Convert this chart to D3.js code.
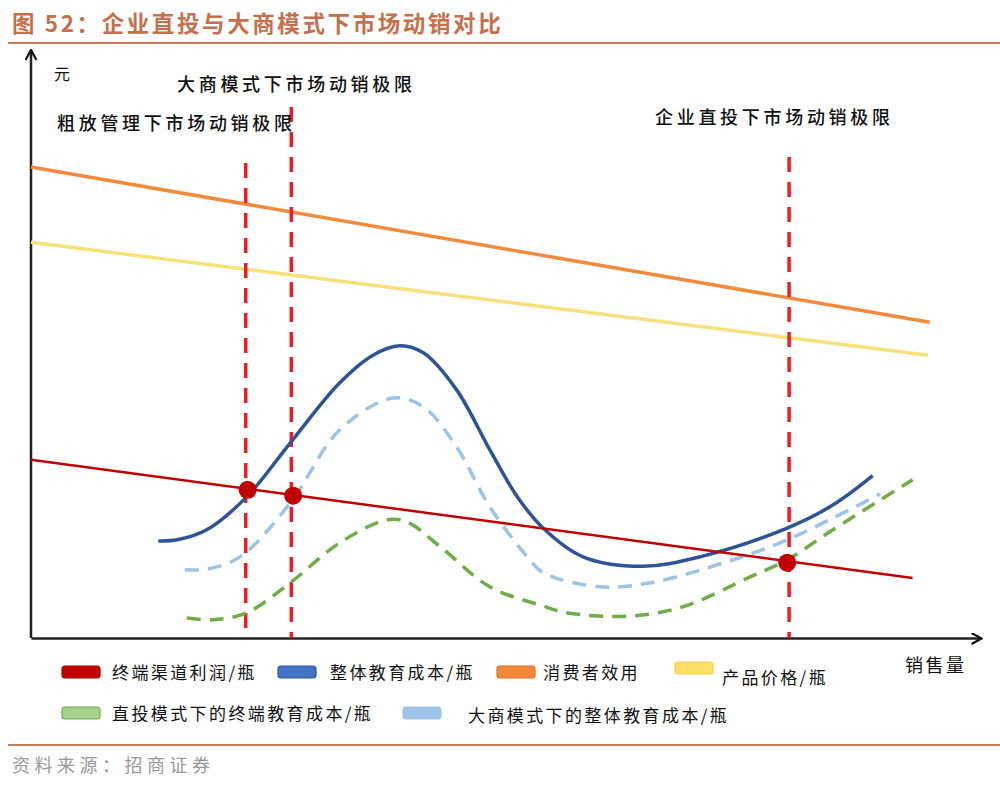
<!DOCTYPE html>
<html>
<head>
<meta charset="utf-8">
<script src="https://cdn.jsdelivr.net/npm/d3@7"></script>
<style>
  body { margin: 0; background: #fff; }
  svg { display: block; font-family: "Noto Sans CJK SC", "Noto Sans", sans-serif; }
</style>
</head>
<body>
<svg id="chart" width="1000" height="786"></svg>
<script>
// values in chart units: x = 销售量 (0-100), y = 元 (0-100)
const consumerUtility = [[0, 80.1], [94.6, 53.7]]
const productPrice = [[0, 67.3], [94.4, 48.1]]
const channelProfit = [[0, 30.3], [92.8, 10.2]]

const totalEduCost = [
    [13.4, 16.5], [15.4, 16.7], [18.5, 18.4], [22.7, 24.0], [27.3, 33.2], [32.5, 43.4],
    [36.0, 48.1], [38.8, 49.7], [41.3, 48.5], [44.8, 42.2], [48.3, 32.0], [51.2, 24.0],
    [53.9, 18.7], [58.1, 13.8], [64.4, 12.2], [70.4, 13.8], [79.6, 18.7], [84.4, 22.6], [88.6, 27.6]
]
const dealerEduCost = [
    [16.2, 11.6], [18.5, 11.7], [22.0, 13.8], [27.3, 23.0], [32.5, 35.4], [38.1, 40.8],
    [41.3, 39.3], [44.8, 32.5], [48.3, 22.3], [52.5, 13.3], [53.9, 11.1], [59.9, 8.7],
    [65.2, 9.4], [73.9, 13.3], [79.6, 16.7], [84.4, 20.4], [89.4, 24.5]
]
const directEduCost = [
    [16.4, 3.4], [19.2, 3.1], [22.7, 4.3], [27.3, 9.4], [32.5, 16.2], [37.5, 20.1],
    [39.6, 19.7], [43.1, 15.5], [48.3, 8.7], [53.6, 5.6], [56.4, 4.3], [62.7, 3.7],
    [68.6, 5.3], [75.7, 10.4], [79.6, 13.3], [84.4, 18.4], [92.8, 26.9]
]

// 动销极限: vertical line x, top of line, intersection point with 终端渠道利润
const limits = [
    { x: 22.6, top: 80.8, dotX: 22.8, dotY: 25.2 },
    { x: 27.4, top: 90.3, dotX: 27.6, dotY: 24.2 },
    { x: 79.8, top: 81.8, dotX: 79.6, dotY: 12.8 }
]
const limitLabels = ['粗放管理下市场动销极限', '大商模式下市场动销极限', '企业直投下市场动销极限']

const legendNames = ['终端渠道利润/瓶', '整体教育成本/瓶', '消费者效用', '产品价格/瓶', '直投模式下的终端教育成本/瓶', '大商模式下的整体教育成本/瓶']

const svg = d3.select('#chart')
const x = d3.scaleLinear().domain([0, 100]).range([31, 981])
const y = d3.scaleLinear().domain([0, 100]).range([638, 50])

// title
svg.append('text').attr('x', 12).attr('y', 32)
    .attr('font-size', 22.5).attr('font-weight', 700).attr('fill', '#C4704C').attr('letter-spacing', 2.6)
    .text('图 52：企业直投与大商模式下市场动销对比')
svg.append('line').attr('x1', 8).attr('x2', 1000).attr('y1', 43).attr('y2', 43)
    .attr('stroke', '#D07A55').attr('stroke-width', 2)

// arrow heads
const defs = svg.append('defs')
defs.append('marker').attr('id', 'arrow')
    .attr('viewBox', '0 -6 12 12').attr('refX', 11).attr('refY', 0)
    .attr('markerWidth', 12).attr('markerHeight', 12).attr('markerUnits', 'userSpaceOnUse')
    .attr('orient', 'auto')
    .append('path').attr('d', 'M1,-5.5L11,0L1,5.5')
    .attr('fill', 'none').attr('stroke', '#111').attr('stroke-width', 2.2)

// axes
svg.append('g').attr('transform', `translate(0,${y(0)})`)
    .call(d3.axisBottom(x).tickValues([]).tickSizeOuter(0))
    .select('.domain').attr('stroke', '#222').attr('stroke-width', 2.5)
    .attr('marker-end', 'url(#arrow)')
svg.append('g').attr('transform', `translate(${x(0)},0)`)
    .call(d3.axisLeft(y).tickValues([]).tickSizeOuter(0))
    .select('.domain').attr('stroke', '#222').attr('stroke-width', 2.5)
    .attr('d', `M0,${y(0)}V${y(100)}`)
    .attr('marker-end', 'url(#arrow)')

svg.append('text').attr('x', 54).attr('y', 80).attr('font-size', 16).attr('fill', '#111').text('元')
svg.append('text').attr('x', 905).attr('y', 672).attr('font-size', 18).attr('fill', '#111')
    .attr('letter-spacing', 2.5).text('销售量')

const straight = d3.line().x(d => x(d[0])).y(d => y(d[1]))
const smooth = d3.line().x(d => x(d[0])).y(d => y(d[1])).curve(d3.curveCatmullRom.alpha(0.5))

svg.append('path').attr('d', straight(consumerUtility))
    .attr('fill', 'none').attr('stroke', '#F28A3E').attr('stroke-width', 3.5)
svg.append('path').attr('d', straight(productPrice))
    .attr('fill', 'none').attr('stroke', '#F8E07A').attr('stroke-width', 3.5)

// dashed limit lines
svg.append('g').selectAll('line').data(limits).join('line')
    .attr('x1', d => x(d.x)).attr('x2', d => x(d.x))
    .attr('y1', d => y(d.top)).attr('y2', y(0))
    .attr('stroke', '#EE1C24').attr('stroke-width', 3.5).attr('stroke-dasharray', '15,10')

svg.append('path').attr('d', smooth(directEduCost))
    .attr('fill', 'none').attr('stroke', '#70AD47').attr('stroke-width', 3.5).attr('stroke-dasharray', '14,9')
svg.append('path').attr('d', smooth(dealerEduCost))
    .attr('fill', 'none').attr('stroke', '#9DC3E6').attr('stroke-width', 3.5).attr('stroke-dasharray', '14,9')
svg.append('path').attr('d', smooth(totalEduCost))
    .attr('fill', 'none').attr('stroke', '#2F5496').attr('stroke-width', 3.5)
svg.append('path').attr('d', straight(channelProfit))
    .attr('fill', 'none').attr('stroke', '#C00000').attr('stroke-width', 2.5)

svg.append('g').selectAll('circle').data(limits).join('circle')
    .attr('cx', d => x(d.dotX)).attr('cy', d => y(d.dotY)).attr('r', 9)
    .attr('fill', '#C00000')

// limit labels
const labelPos = [[57, 130], [177, 91], [655, 124]]
svg.append('g').selectAll('text').data(limitLabels).join('text')
    .attr('x', (d, i) => labelPos[i][0]).attr('y', (d, i) => labelPos[i][1])
    .attr('font-size', 18).attr('font-weight', 500).attr('fill', '#111').attr('letter-spacing', 3.7)
    .text(d => d)

// legend
const legendStyle = [
    { fill: '#C00000', stroke: '#A00000', sx: 62, ty: 672, tx: 112, tyText: 679 },
    { fill: '#4472C4', stroke: '#2F5597', sx: 278, ty: 672, tx: 330, tyText: 679 },
    { fill: '#F4883A', stroke: '#E07020', sx: 497, ty: 672, tx: 543, tyText: 679 },
    { fill: '#FFE066', stroke: '#F5D040', sx: 675, ty: 668, tx: 722, tyText: 684 },
    { fill: '#A9D18E', stroke: '#70AD47', sx: 62, ty: 713, tx: 112, tyText: 720 },
    { fill: '#9DC3E6', stroke: '#9DC3E6', sx: 403, ty: 713, tx: 468, tyText: 722 }
]
const legend = svg.append('g').selectAll('g').data(legendNames).join('g')
legend.append('rect')
    .attr('x', (d, i) => legendStyle[i].sx).attr('y', (d, i) => legendStyle[i].ty - 6)
    .attr('width', 38).attr('height', 12).attr('rx', 3)
    .attr('fill', (d, i) => legendStyle[i].fill).attr('stroke', (d, i) => legendStyle[i].stroke).attr('stroke-width', 1.2)
legend.append('text')
    .attr('x', (d, i) => legendStyle[i].tx).attr('y', (d, i) => legendStyle[i].tyText)
    .attr('font-size', 17).attr('fill', '#111').attr('letter-spacing', 2.4)
    .text(d => d)

// source
svg.append('line').attr('x1', 8).attr('x2', 1000).attr('y1', 745).attr('y2', 745)
    .attr('stroke', '#D07A55').attr('stroke-width', 2)
svg.append('text').attr('x', 12).attr('y', 772).attr('font-size', 18).attr('fill', '#999')
    .attr('letter-spacing', 4.5).text('资料来源：招商证券')
</script>
</body>
</html>
